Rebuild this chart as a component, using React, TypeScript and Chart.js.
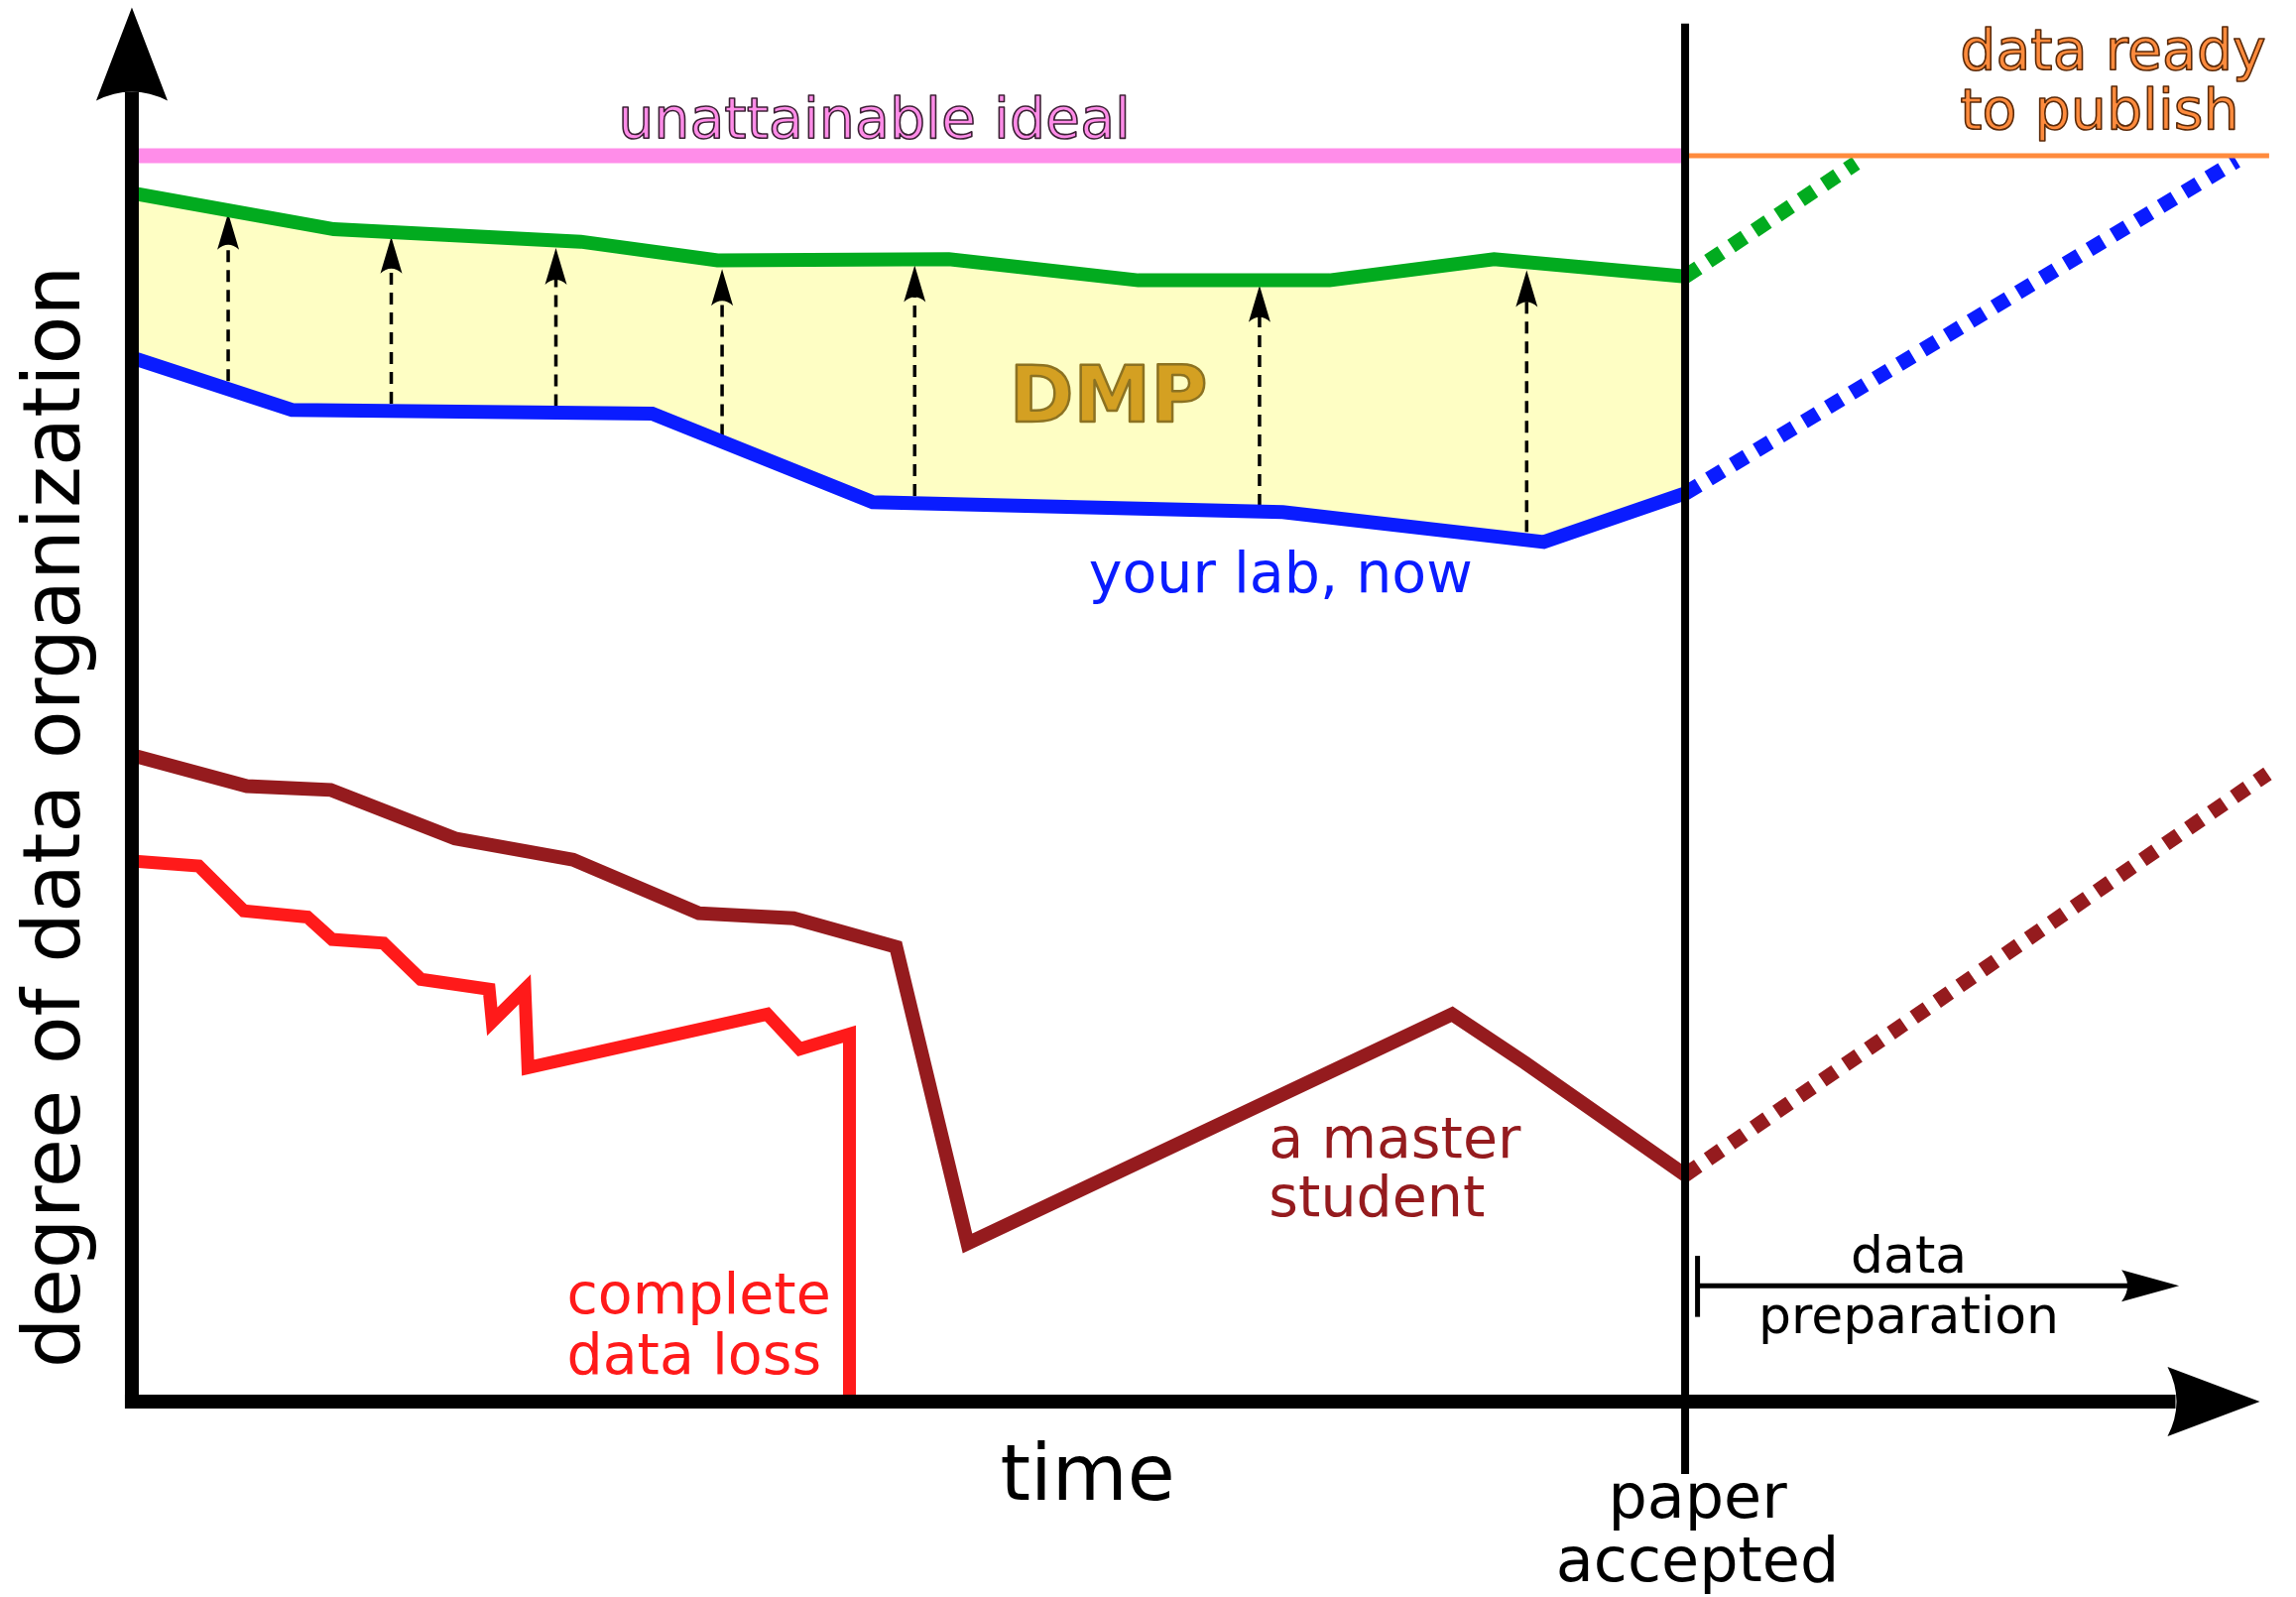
import React, { useEffect, useRef } from "react";
import { Chart, registerables } from "chart.js";

Chart.register(...registerables);

// ---- data (time axis: 0 = start, 100 = paper accepted; degree axis: 0 = none, 100 = ideal) ----
const idealX = [0, 100];
const idealY = [100, 100];
const publishX = [100, 137.6];
const publishY = [100, 100];

const greenX = [0, 13.0, 28.9, 37.7, 52.6, 64.8, 77.1, 87.7, 100];
const greenY = [97.0, 94.1, 93.1, 91.6, 91.7, 90.0, 90.0, 91.7, 90.3];
const greenFutureX = [100, 111.0];
const greenFutureY = [90.3, 99.4];

const blueX = [0, 10.3, 33.5, 47.7, 74.1, 90.9, 100];
const blueY = [83.8, 79.6, 79.3, 72.2, 71.4, 69.0, 72.9];
const blueFutureX = [100, 135.5];
const blueFutureY = [72.9, 99.6];

const masterX = [0, 7.4, 12.8, 20.8, 28.4, 36.5, 42.6, 49.2, 53.8, 85.0, 89.7, 100];
const masterY = [51.9, 49.4, 49.1, 45.2, 43.5, 39.2, 38.8, 36.5, 12.7, 31.1, 27.2, 18.2];
const masterFutureX = [100, 137.5];
const masterFutureY = [18.2, 50.4];

const lossX = [0, 4.3, 7.2, 11.3, 12.9, 16.2, 18.6, 23.0, 23.2, 25.3, 25.5, 40.9, 43.0, 46.2, 46.2];
const lossY = [43.4, 43.0, 39.4, 38.9, 37.1, 36.8, 33.9, 33.1, 30.5, 33.1, 26.8, 31.1, 28.3, 29.5, 0];

const dmpArrowX = [6.2, 16.7, 27.3, 38.0, 50.4, 72.6, 89.8];
const dmpArrowFrom = [81.9, 80.1, 79.9, 77.5, 72.7, 71.9, 69.8];
const dmpArrowTo = [95.4, 93.5, 92.6, 90.9, 91.2, 89.6, 90.8];

const timeAxisEnd = 137.0;
const degreeAxisEnd = 111.9;
const paperAccepted = 100;
const paperLineTop = 110.6;
const paperLineBottom = -5.8;
const prepStart = 100.8;
const prepEnd = 131.8;
const prepLevel = 9.3;
const prepBarTop = 11.7;
const prepBarBottom = 6.8;

const xMin = -8.49;
const xMax = 139.33;
const yMin = -15.68;
const yMax = 112.5;

const FONT = '"DejaVu Sans"';

function pts(xs: number[], ys: number[]) {
  return xs.map((x, i) => ({ x, y: ys[i] }));
}

function arrowHead(
  ctx: CanvasRenderingContext2D,
  tx: number,
  ty: number,
  dx: number,
  dy: number,
  L: number,
  W: number,
  N: number
) {
  const nx = -dy;
  const ny = dx;
  const bx = tx - dx * L;
  const by = ty - dy * L;
  const cx = tx - dx * (L - 2 * N);
  const cy = ty - dy * (L - 2 * N);
  ctx.beginPath();
  ctx.moveTo(tx, ty);
  ctx.lineTo(bx + nx * W, by + ny * W);
  ctx.quadraticCurveTo(cx, cy, bx - nx * W, by - ny * W);
  ctx.closePath();
  ctx.fill();
}

function label(
  ctx: CanvasRenderingContext2D,
  lines: string[],
  x: number,
  y: number,
  lineH: number,
  font: string,
  color: string,
  align: CanvasTextAlign,
  stroke?: string,
  strokeW?: number
) {
  ctx.save();
  ctx.font = font;
  ctx.textAlign = align;
  ctx.textBaseline = "alphabetic";
  lines.forEach((t, i) => {
    ctx.fillStyle = color;
    ctx.fillText(t, x, y + i * lineH);
    if (stroke) {
      ctx.strokeStyle = stroke;
      ctx.lineWidth = strokeW || 1.5;
      ctx.lineJoin = "round";
      ctx.strokeText(t, x, y + i * lineH);
    }
  });
  ctx.restore();
}

const diagramPlugin = {
  id: "diagram",
  beforeDatasetsDraw(chart: any) {
    const ctx: CanvasRenderingContext2D = chart.ctx;
    const xs = chart.scales.x;
    const ys = chart.scales.y;
    ctx.save();
    ctx.strokeStyle = "#000";
    ctx.fillStyle = "#000";
    dmpArrowX.forEach((v, i) => {
      const px = xs.getPixelForValue(v);
      const y0 = ys.getPixelForValue(dmpArrowFrom[i]);
      const y1 = ys.getPixelForValue(dmpArrowTo[i]);
      ctx.lineWidth = 3.5;
      ctx.setLineDash([12, 8]);
      ctx.beginPath();
      ctx.moveTo(px, y0);
      ctx.lineTo(px, y1 + 30);
      ctx.stroke();
      ctx.setLineDash([]);
      arrowHead(ctx, px, y1, 0, -1, 37, 11, 5);
    });
    ctx.restore();
  },
  afterDatasetsDraw(chart: any) {
    const ctx: CanvasRenderingContext2D = chart.ctx;
    const xs = chart.scales.x;
    const ys = chart.scales.y;
    const X = (v: number) => xs.getPixelForValue(v);
    const Y = (v: number) => ys.getPixelForValue(v);
    ctx.save();
    ctx.fillStyle = "#000";
    ctx.strokeStyle = "#000";

    // paper accepted line
    ctx.lineWidth = 8;
    ctx.beginPath();
    ctx.moveTo(X(paperAccepted), Y(paperLineTop));
    ctx.lineTo(X(paperAccepted), Y(paperLineBottom));
    ctx.stroke();

    // axes
    const ox = X(0);
    const oy = Y(0);
    ctx.lineWidth = 14;
    ctx.lineCap = "butt";
    ctx.beginPath();
    ctx.moveTo(ox, oy + 7);
    ctx.lineTo(ox, Y(degreeAxisEnd) + 85);
    ctx.stroke();
    ctx.beginPath();
    ctx.moveTo(ox - 7, oy);
    ctx.lineTo(X(timeAxisEnd) - 85, oy);
    ctx.stroke();
    arrowHead(ctx, ox, Y(degreeAxisEnd), 0, -1, 94, 36, 9);
    arrowHead(ctx, X(timeAxisEnd), oy, 1, 0, 93, 35, 9);

    // data preparation arrow
    ctx.lineWidth = 5;
    ctx.beginPath();
    ctx.moveTo(X(prepStart), Y(prepBarTop));
    ctx.lineTo(X(prepStart), Y(prepBarBottom));
    ctx.stroke();
    ctx.beginPath();
    ctx.moveTo(X(prepStart), Y(prepLevel));
    ctx.lineTo(X(prepEnd) - 45, Y(prepLevel));
    ctx.stroke();
    arrowHead(ctx, X(prepEnd), Y(prepLevel), 1, 0, 58, 16, 6);
    ctx.restore();

    // texts
    label(ctx, ["unattainable ideal"], X(47.8), Y(101.4), 0, `57px ${FONT}`, "#ff8ce8", "center", "#3a1f33", 1.6);
    label(ctx, ["data ready", "to publish"], X(117.7), Y(106.9), 60, `57px ${FONT}`, "#ff8b3d", "left", "#5a2a0a", 1.6);
    label(ctx, ["DMP"], X(56.5), Y(78.7), 0, `bold 78px ${FONT}`, "#d4a022", "left", "#8c7222", 2.5);
    label(ctx, ["your lab, now"], X(61.6), Y(65.0), 0, `57px ${FONT}`, "#0a1cff", "left");
    label(ctx, ["a master", "student"], X(73.2), Y(19.6), 59, `57px ${FONT}`, "#951b1e", "left");
    label(ctx, ["complete", "data loss"], X(28.0), Y(7.1), 61, `57px ${FONT}`, "#ff1a1a", "left");
    label(ctx, ["time"], X(55.9), Y(-7.9), 0, `78px ${FONT}`, "#000", "left");
    label(ctx, ["paper", "accepted"], X(100.8), Y(-9.3), 64, `62px ${FONT}`, "#000", "center");
    label(ctx, ["data", "preparation"], X(114.4), Y(10.35), 61, `52px ${FONT}`, "#000", "center");

    ctx.save();
    ctx.translate(X(-3.38), Y(2.7));
    ctx.rotate(-Math.PI / 2);
    ctx.font = `80px ${FONT}`;
    ctx.fillStyle = "#000";
    ctx.textAlign = "left";
    ctx.textBaseline = "alphabetic";
    ctx.fillText("degree of data organization", 0, 0);
    ctx.restore();
  },
};

export default function App() {
  const ref = useRef<HTMLCanvasElement | null>(null);

  useEffect(() => {
    if (!ref.current) return;
    const solid = (color: string, w = 14) => ({
      borderColor: color,
      borderWidth: w,
      pointRadius: 0,
      borderJoinStyle: "miter" as const,
      borderCapStyle: "butt" as const,
      tension: 0,
      fill: false as any,
    });
    const dotted = (color: string) => ({
      ...solid(color, 15),
      borderDash: [16, 12],
    });
    const chart = new Chart(ref.current, {
      type: "line",
      data: {
        datasets: [
          { label: "ideal", data: pts(idealX, idealY), ...solid("#ff8de9", 15) },
          { label: "publish", data: pts(publishX, publishY), ...solid("#ff8b3d", 5) },
          {
            label: "DMP",
            data: pts(greenX, greenY),
            ...solid("#02ab1f"),
            fill: { target: 3 },
            backgroundColor: "#fefec4",
          },
          { label: "your lab, now", data: pts(blueX, blueY), ...solid("#0a1cff") },
          { label: "DMP future", data: pts(greenFutureX, greenFutureY), ...dotted("#02ab1f") },
          { label: "lab future", data: pts(blueFutureX, blueFutureY), ...dotted("#0a1cff") },
          { label: "a master student", data: pts(masterX, masterY), ...solid("#951b1e") },
          { label: "master future", data: pts(masterFutureX, masterFutureY), ...dotted("#951b1e") },
          { label: "complete data loss", data: pts(lossX, lossY), ...solid("#ff1a1a", 13) },
        ],
      },
      options: {
        animation: false,
        responsive: false,
        maintainAspectRatio: false,
        devicePixelRatio: 1,
        layout: { padding: 0 },
        scales: {
          x: { type: "linear", min: xMin, max: xMax, display: false },
          y: { type: "linear", min: yMin, max: yMax, display: false },
        },
        plugins: {
          legend: { display: false },
          tooltip: { enabled: false },
          filler: { drawTime: "beforeDatasetsDraw" },
        } as any,
        events: [],
      },
      plugins: [diagramPlugin],
    });
    return () => chart.destroy();
  }, []);

  return (
    <div style={{ position: "absolute", left: 0, top: 0, width: 2315, height: 1610, background: "#fff" }}>
      <canvas ref={ref} width={2315} height={1610} style={{ display: "block", width: 2315, height: 1610 }} />
    </div>
  );
}
